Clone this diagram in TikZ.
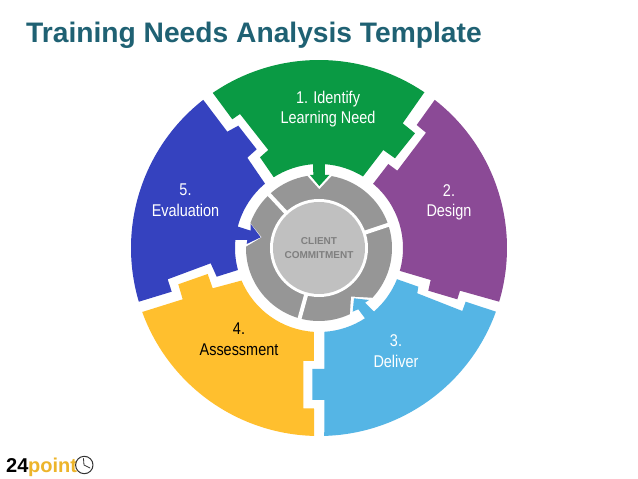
\documentclass[tikz,border=0pt]{standalone}
\usepackage{fontspec}
\setmainfont{Liberation Sans}
\newfontfamily\narrowfont[FakeStretch=0.85]{Liberation Sans}
\definecolor{titleteal}{HTML}{1F6173}
\definecolor{stepgreen}{HTML}{0A9A44}
\definecolor{steppurple}{HTML}{8B4A96}
\definecolor{stepblue}{HTML}{3542BF}
\definecolor{stepsky}{HTML}{55B5E5}
\definecolor{stepyellow}{HTML}{FFBF2E}
\definecolor{ringgray}{HTML}{969696}
\definecolor{hubgray}{HTML}{C0C0C0}
\definecolor{hubtext}{HTML}{7F7F7F}
\definecolor{logogold}{HTML}{EDB52B}

\begin{document}
\begin{tikzpicture}[line cap=round,line join=round,x=1pt,y=1pt]
\tikzstyle{every node}=[inner sep=0pt]
\tikzstyle{steplabel}=[font=\narrowfont\fontsize{17}{20.5}\selectfont,align=center,white]
\tikzstyle{hublabel}=[font=\bfseries\fontsize{10}{14}\selectfont,align=center,hubtext]
\tikzstyle{logotext}=[font=\bfseries\fontsize{20}{20}\selectfont,anchor=base west]
\useasboundingbox (-319,-231) rectangle (319,248);
\fill[white] (-319,-231) rectangle (319,248);
\draw (-293,205) node[anchor=base west,font=\bfseries\fontsize{28.2}{30}\selectfont,titleteal] (title) {Training Needs Analysis Template};
% five steps
\fill[stepgreen] (124.4:188) arc[start angle=124.4,end angle=55.9,radius=188] -- (83.7,124.7) -- (96,114.7) -- (76,89.7) -- (64.3,98) -- (58.4:84) arc[start angle=58.4,end angle=86,radius=84] -- (6,73) -- (10.3,73) -- (0.3,62) -- (-9,73) -- (-5.7,73) -- (94:84) arc[start angle=94,end angle=122.6,radius=84] -- (-59,90.7) -- (-50.7,98) -- (-79,134) -- (-86.7,128.7) -- cycle;
\fill[steppurple] (52:188) arc[start angle=52,end angle=-16.6,radius=188] -- (141,-42.7) -- (138.3,-51.3) -- (109.3,-42.7) -- (111.7,-32) -- (-15.8:84) arc[start angle=-15.8,end angle=49.9,radius=84] -- (69.3,84) -- (78.3,77.3) -- (107,115.3) -- (97.7,123) -- cycle;
\fill[stepsky] (-19.8:188) arc[start angle=-19.8,end angle=-88.4,radius=188] -- (5.3,-152) -- (-6.7,-152) -- (-6.7,-121) -- (5.3,-121) -- (-86.3:84) arc[start angle=-86.3,end angle=-56.8,radius=84] -- (39.3,-61.3) -- (33.7,-63.7) -- (35,-50.3) -- (50,-52) -- (46,-54.7) -- (-49.1:84) arc[start angle=-49.1,end angle=-21.8,radius=84] -- (99.3,-38.7) -- (98.3,-45.3) -- (143.3,-63) -- (146.7,-53.7) -- cycle;
\fill[stepyellow] (199.9:188) arc[start angle=199.9,end angle=268.5,radius=188] -- (-5,-160.3) -- (-15.7,-160.3) -- (-15.7,-113) -- (-5,-113) -- (266.5:84) arc[start angle=266.5,end angle=202.8,radius=84] -- (-106.3,-40.3) -- (-111.3,-26) -- (-140.7,-36.3) -- (-136.3,-51.3) -- cycle;
\fill[stepblue] (128:188) arc[start angle=128,end angle=196.6,radius=188] -- (-147.3,-43.7) -- (-151.3,-31.3) -- (-108.3,-15.3) -- (-102.3,-28.7) -- (195.2:84) arc[start angle=195.2,end angle=174.4,radius=84] -- (-71.7,8) -- (-72.3,4) -- (-58.3,10.7) -- (-68.3,24) -- (-68.3,17.3) -- (165.2:84) arc[start angle=165.2,end angle=130,radius=84] -- (-71.7,90.3) -- (-62.3,98.7) -- (-80.7,122.3) -- (-91.7,116.3) -- cycle;
% inner ring and hub
\fill[ringgray] (-43:73) arc[start angle=-43,end angle=80,radius=73] -- (0.3,58.7) -- (99.2:73) arc[start angle=99.2,end angle=160,radius=73] -- (-57.3,10.7) -- (179:73) arc[start angle=179,end angle=295,radius=73] -- (32,-48.5) -- cycle;
\foreach \a in {18.5,133,254.6}
\draw[white,line width=4pt,line cap=butt] (\a:47) -- (\a:75);
\fill[white] (0,0) circle (49);
\fill[hubgray] (0,0) circle (46);
\draw (0,0) node[hublabel] (hub) {CLIENT\\COMMITMENT};
\draw (9,139) node[steplabel] (identify) {1. Identify\\Learning Need};
\draw (130,45.5) node[steplabel] (design) {2.\\Design};
\draw (77,-103) node[steplabel] (deliver) {3.\\Deliver};
\draw (-80,-91) node[steplabel,black] (assessment) {4.\\Assessment};
\draw (-133.5,48) node[steplabel] (evaluation) {5.\\Evaluation};
% logo
\draw (-313,-225) node[logotext,black] (logoa) {24};
\draw (-291,-225) node[logotext,logogold] (logob) {point};
\draw[black!80,line width=1pt] (-234.7,-217) circle (8.7);
\draw[black!80,line width=0.8pt] (-235.5,-210.5) -- (-235,-217) -- (-229,-220);
\end{tikzpicture}
\end{document}
